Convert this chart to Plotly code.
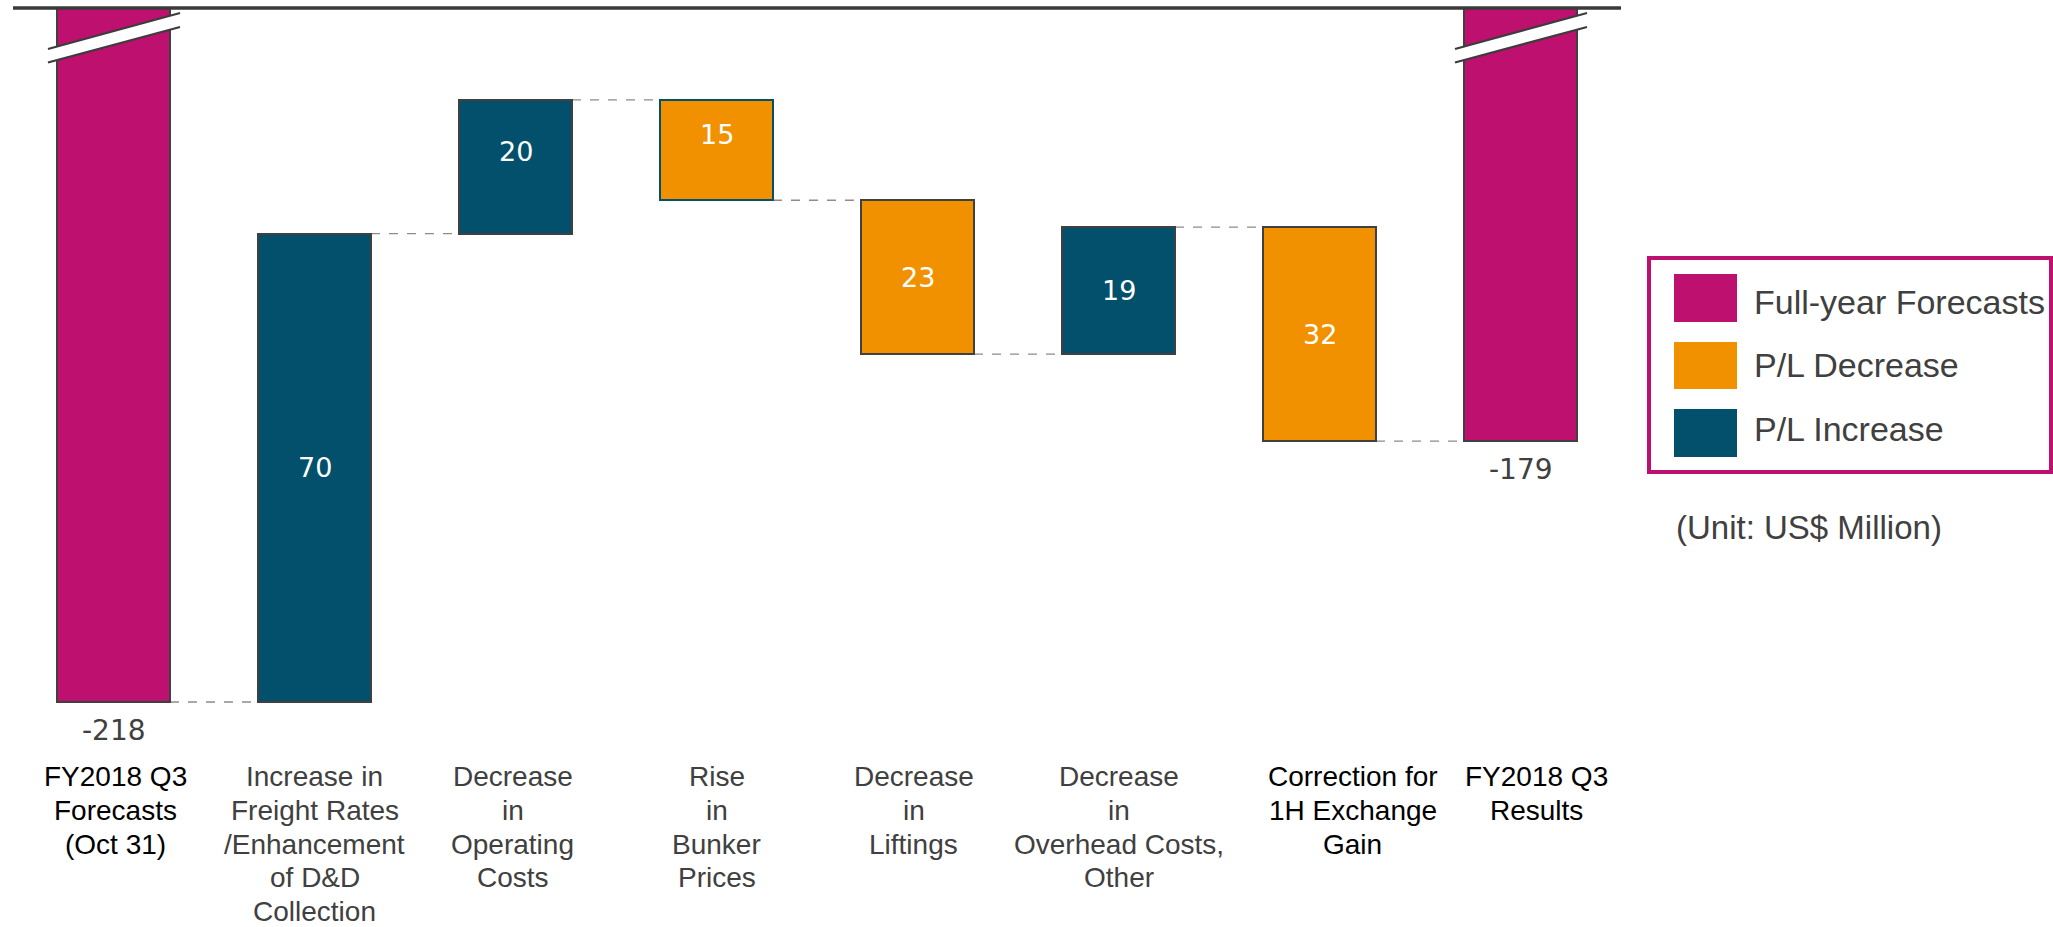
import plotly.graph_objects as go

# ---- data -------------------------------------------------------------
categories = [
    "FY2018 Q3<br>Forecasts<br>(Oct 31)",
    "Increase in<br>Freight Rates<br>/Enhancement<br>of D&D<br>Collection",
    "Decrease<br>in<br>Operating<br>Costs",
    "Rise<br>in<br>Bunker<br>Prices",
    "Decrease<br>in<br>Liftings",
    "Decrease<br>in<br>Overhead Costs,<br>Other",
    "Correction for<br>1H Exchange<br>Gain",
    "FY2018 Q3<br>Results",
]
values = [-218, 70, 20, -15, -23, 19, -32, -179]
kinds = ["total", "up", "up", "down", "down", "up", "down", "total"]

legend_names = ["Full-year Forecasts", "P/L Decrease", "P/L Increase"]
unit_note = "(Unit: US$ Million)"

# ---- style ------------------------------------------------------------
MAGENTA = "#BE106E"
ORANGE = "#F29100"
TEAL = "#02506C"
EDGE = "#404040"
TEXT_GRAY = "#404040"
fill_for = {"total": MAGENTA, "down": ORANGE, "up": TEAL}

W, H = 2053, 927
ML, MR, MT, MB = 13, 432, 8, 207
PW, PH = W - ML - MR, H - MT - MB
Y_RANGE = [-220.69, -114.26]
X_RANGE = [-0.5, len(categories) - 0.5]
BAR_W = 0.562
PX_PER_UNIT = PH / (Y_RANGE[1] - Y_RANGE[0])

label_colors = ["#000000", TEXT_GRAY, TEXT_GRAY, TEXT_GRAY, TEXT_GRAY, TEXT_GRAY, "#000000", "#000000"]
label_xshift = [2, 0, -3, 0, -4, 0, 33, 16]
value_yshift = [0, 0, 15, 16, 0, 0, 0, 0]
edge_colors = [EDGE, EDGE, EDGE, TEAL, EDGE, EDGE, EDGE, EDGE]


def px_x(px):
    return (px - ML) / PW


def px_y(py):
    return (H - MB - py) / PH


def y_below_top(px):
    return Y_RANGE[1] - px / PX_PER_UNIT


# ---- waterfall geometry ----------------------------------------------
bases, heights, ends = [], [], []
running = 0
for v, k in zip(values, kinds):
    if k == "total":
        bases.append(0)
        heights.append(v)
        running = v
    else:
        bases.append(running)
        heights.append(v)
        running = running + v
    ends.append(running)

fig = go.Figure()
fig.add_trace(go.Bar(
    x=list(range(len(categories))),
    y=heights,
    base=bases,
    width=BAR_W,
    marker=dict(color=[fill_for[k] for k in kinds],
                line=dict(color=edge_colors, width=2)),
    showlegend=False,
    hoverinfo="skip",
))

shapes = []
annotations = []

# dashed connectors between consecutive bars
for i in range(len(categories) - 1):
    shapes.append(dict(
        type="line", xref="x", yref="y",
        x0=i + BAR_W / 2, x1=i + 1 - BAR_W / 2,
        y0=ends[i], y1=ends[i],
        line=dict(color="#8C8C8C", width=1.3, dash="dash"),
        layer="below",
    ))

# axis break marks on the full-year bars
for i, k in enumerate(kinds):
    if k != "total":
        continue
    xl, xr = i - 0.326, i + 0.331
    up_l, up_r = y_below_top(41), y_below_top(5)
    lo_l, lo_r = y_below_top(54.5), y_below_top(19)
    shapes.append(dict(
        type="path", xref="x", yref="y",
        path=f"M {xl},{up_l} L {xr},{up_r} L {xr},{lo_r} L {xl},{lo_l} Z",
        fillcolor="white", line=dict(width=0),
    ))
    for yl, yr in ((up_l, up_r), (lo_l, lo_r)):
        shapes.append(dict(
            type="line", xref="x", yref="y",
            x0=xl, x1=xr, y0=yl, y1=yr,
            line=dict(color="#3C3C3C", width=2.2),
        ))

# top rule
shapes.append(dict(type="line", xref="paper", yref="paper",
                   x0=0, x1=1, y0=1, y1=1,
                   line=dict(color="#3A3A3A", width=3.5)))

# value labels
for i, (k, v, b, h) in enumerate(zip(kinds, values, bases, heights)):
    if k == "total":
        annotations.append(dict(
            x=i, y=v, xref="x", yref="y", text=str(v), showarrow=False,
            yanchor="middle", yshift=-28,
            font=dict(family="DejaVu Sans", size=28, color=TEXT_GRAY),
        ))
    else:
        annotations.append(dict(
            x=i, y=b + h / 2, xref="x", yref="y", text=str(abs(v)), showarrow=False,
            yanchor="middle", yshift=value_yshift[i],
            font=dict(family="DejaVu Sans", size=27, color="white"),
        ))

# category labels, one line at a time
LINE_TOP, LINE_STEP = 777, 33.5
for i, cat in enumerate(categories):
    for j, line in enumerate(cat.split("<br>")):
        annotations.append(dict(
            x=i, xref="x", y=px_y(LINE_TOP + j * LINE_STEP), yref="paper",
            text=line, showarrow=False, xanchor="center", yanchor="middle",
            xshift=label_xshift[i],
            font=dict(family="Liberation Sans, Arial, sans-serif", size=28,
                      color=label_colors[i]),
        ))

# legend box
shapes.append(dict(type="rect", xref="paper", yref="paper",
                   x0=px_x(1649), x1=px_x(2051), y0=px_y(258), y1=px_y(472),
                   line=dict(color=MAGENTA, width=4), fillcolor="rgba(0,0,0,0)"))
swatch_rows = [(274, 322, 302), (342, 389, 365), (409, 457, 429)]
for name, color, (top, bot, text_y) in zip(legend_names, [MAGENTA, ORANGE, TEAL], swatch_rows):
    shapes.append(dict(type="rect", xref="paper", yref="paper",
                       x0=px_x(1674), x1=px_x(1737), y0=px_y(top), y1=px_y(bot),
                       fillcolor=color, line=dict(width=0)))
    annotations.append(dict(
        x=px_x(1752), y=px_y(text_y), xref="paper", yref="paper",
        text=name, showarrow=False, xanchor="left", yanchor="middle",
        font=dict(family="Liberation Sans, Arial, sans-serif", size=34, color=TEXT_GRAY),
    ))

annotations.append(dict(
    x=px_x(1674), y=px_y(527), xref="paper", yref="paper",
    text=unit_note, showarrow=False, xanchor="left", yanchor="middle",
    font=dict(family="Liberation Sans, Arial, sans-serif", size=33, color=TEXT_GRAY),
))

fig.update_layout(
    width=W, height=H,
    margin=dict(l=ML, r=MR, t=MT, b=MB, pad=0),
    paper_bgcolor="white", plot_bgcolor="white",
    xaxis=dict(range=X_RANGE, visible=False, fixedrange=True),
    yaxis=dict(range=Y_RANGE, visible=False, fixedrange=True),
    shapes=shapes, annotations=annotations,
    bargap=0,
)

fig.write_html("out.html")
